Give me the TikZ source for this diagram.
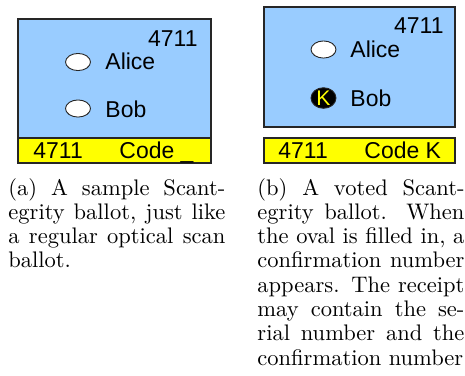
\documentclass[tikz,border=0pt]{standalone}
\usepackage{fontspec}
\newfontfamily\ballotfont{Liberation Sans}
\usetikzlibrary{shapes.geometric}
\definecolor{ballotblue}{HTML}{99CCFF}
\definecolor{ballotyellow}{HTML}{FFFF00}
\begin{document}
\begin{tikzpicture}[x=0.4444pt,y=-0.4444pt,
  ballot/.style={draw=black!85, fill=ballotblue, line width=0.5pt},
  strip/.style={draw=black!85, fill=ballotyellow, line width=0.5pt},
  oval/.style={ellipse, draw=black!85, fill=white, minimum width=11.1pt, minimum height=7.6pt, inner sep=0pt, line width=0.4pt},
  btext/.style={font=\ballotfont\fontsize{10.2}{12}\selectfont, inner sep=0pt},
  captext/.style={font=\fontsize{10}{10.8}\selectfont, inner sep=0pt, align=justify, anchor=base west}
]
\useasboundingbox (0,0) rectangle (465,375);
% ballot (a)
\draw[ballot] (18,19) rectangle (211,138);
\draw[strip] (18,138) rectangle (211,163);
\node[btext, anchor=base east] (serA) at (198,46) {4711};
\node[oval] (ovA1) at (78,62) {};
\node[btext, anchor=base west] (aliceA) at (105,69) {Alice};
\node[oval] (ovA2) at (78,108.5) {};
\node[btext, anchor=base west] (bobA) at (105,117) {Bob};
\node[btext, anchor=base west] (numA) at (33,158) {4711};
\node[btext, anchor=base west] (codeA) at (119,158) {Code \_};
% ballot (b)
\draw[ballot] (264,7) rectangle (455,127);
\draw[strip] (264,138) rectangle (455,163);
\node[btext, anchor=base east] (serB) at (444,33) {4711};
\node[oval] (ovB1) at (323.5,49.5) {};
\node[btext, anchor=base west] (aliceB) at (350,57) {Alice};
\node[oval, fill=black, text=ballotyellow, font=\ballotfont\fontsize{9.4}{9.4}\selectfont] (ovB2) at (323.5,98) {K};
\node[btext, anchor=base west] (bobB) at (350,106) {Bob};
\node[btext, anchor=base west] (numB) at (278,158) {4711};
\node[btext, anchor=base west] (codeB) at (364,158) {Code K};
% captions
\node[captext, text width=96.4pt] (capA) at (8,195) {(a) A sample Scant-\linebreak egrity ballot, just like\linebreak a regular optical scan\linebreak ballot.};
\node[captext, text width=92pt] (capB) at (257,195) {(b) A voted Scant-\linebreak egrity ballot. When\linebreak the oval is filled in, a\linebreak confirmation number\linebreak appears. The receipt\linebreak may contain the se-\linebreak rial number and the\linebreak confirmation number};
\end{tikzpicture}
\end{document}
